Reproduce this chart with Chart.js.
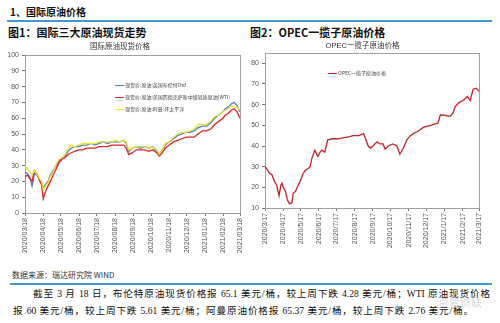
<!DOCTYPE html>
<html>
<head>
<meta charset="utf-8">
<script src="https://cdn.jsdelivr.net/npm/chart.js@4/dist/chart.umd.min.js"></script>
<style>
body{margin:0;width:500px;height:323px;background:#fff;position:relative;overflow:hidden;font-family:"Noto Sans CJK SC",sans-serif;}
.t{position:absolute;white-space:nowrap;color:#111;}
.bold{font-weight:bold;}
.bar{position:absolute;background:#3f9ad2;}
canvas{position:absolute;}
.lg{position:absolute;font-size:5px;color:#444;white-space:nowrap;line-height:6px;font-family:"Noto Sans CJK SC",sans-serif;}
.lg i{display:inline-block;width:9px;height:1.3px;vertical-align:middle;margin-right:1px;}
.p{position:absolute;font-size:9.6px;line-height:13px;color:#111;font-family:"Liberation Serif","Noto Sans CJK SC",serif;text-align:justify;text-align-last:justify;text-justify:inter-character;}
</style>
</head>
<body>
<div class="t bold" style="left:10px;top:4px;font-size:10px;line-height:15px;">1、国际原油价格</div>
<div class="bar" style="left:7px;top:20px;width:485px;height:2px;"></div>
<div class="t bold" style="left:8px;top:24px;font-size:11px;line-height:16px;">图1：国际三大原油现货走势</div>
<div class="t bold" style="left:250px;top:24px;font-size:11px;line-height:16px;">图2：OPEC一揽子原油价格</div>

<canvas id="left" width="260" height="222" style="left:0;top:38px;"></canvas>
<canvas id="right" width="244" height="222" style="left:246px;top:38px;"></canvas>

<div class="lg" style="left:115px;top:82px;"><i style="background:#4f7fbd"></i>现货价:原油:英国布伦特Dtd</div>
<div class="lg" style="left:115px;top:94px;"><i style="background:#dc2428"></i>现货价:原油:美国西德克萨斯中级轻质原油(WTI)</div>
<div class="lg" style="left:115px;top:106px;"><i style="background:#f0e03a"></i>现货价:原油:阿曼:环太平洋</div>
<div class="lg" style="left:328px;top:70px;"><i style="background:#c8202a"></i>OPEC一揽子原油价格</div>

<div class="t" style="left:12px;top:269px;font-size:8px;line-height:11px;color:#333;">数据来源：瑞达研究院 WIND</div>
<div class="bar" style="left:10px;top:283px;width:482px;height:1.5px;"></div>
<div class="p" style="left:33px;top:287px;width:457px;">截至 3 月 18 日，布伦特原油现货价格报 65.1 美元/桶，较上周下跌 4.28 美元/桶；WTI 原油现货价格</div>
<div class="p" style="left:13px;top:304px;width:460px;">报 60 美元/桶，较上周下跌 5.61 美元/桶；阿曼原油价格报 65.37 美元/桶，较上周下跌 2.76 美元/桶。</div>
<div class="t" style="left:438px;top:294px;font-size:11px;color:rgba(140,140,140,0.35);">资管财联</div>

<script>
// 图1 国际三大原油现货（天数自 2020/03/18 起）
var leftDays = [0,4,8,12,16,20,24,28,31,35,39,43,48,53,58,63,68,73,78,84,91,98,105,112,119,126,133,140,147,154,161,168,172,176,182,189,196,203,210,217,224,228,233,238,245,252,259,266,273,280,287,294,301,308,315,322,329,336,340,345,350,355,360,365];
var brent = [26,25,23,17,25,24,22,19,16,18,20,24,27,30,33,35,36,39,41,42,42,43,43,44,43,44,45,44,45,45,45,46,44,39,41,42,41,42,41,42,39,37,40,43,45,47,49,50,51,51,52,54,55,55,57,60,62,64,66,67,69,70,68,64];
var wti = [23,24,22,20,27,25,21,18,9,14,17,20,24,28,32,34,35,37,38,39,40,40,41,41,41,42,42,42,43,43,43,43,41,37,38,40,40,40,39,40,38,36,38,41,43,45,46,47,48,48,48,50,52,52,53,56,58,60,62,63,65,66,64,60];
var oman = [30,28,26,24,27,25,22,20,15,17,19,23,26,31,34,35,37,41,43,42,43,44,44,44,44,45,45,45,45,46,45,46,45,40,41,42,42,42,41,42,40,37,40,44,45,48,50,51,51,52,53,56,56,56,58,61,62,64,65,66,68,67,67,65];
var leftTickDays = [0,31,61,92,122,153,184,214,245,275,306,337,365];
var leftTickLabels = ['2020/03/18','2020/04/18','2020/05/18','2020/06/18','2020/07/18','2020/08/18','2020/09/18','2020/10/18','2020/11/18','2020/12/18','2021/01/18','2021/02/18','2021/03/18'];
var leftYTicks = [0,10,20,30,40,50,60,70,80,90,100];

// 图2 OPEC一揽子（天数自 2020/3/17 起）
var opecDays = [0,3,7,12,16,20,24,27,29,31,35,38,42,46,48,52,55,60,64,68,73,77,80,85,90,94,97,102,107,115,125,135,145,150,160,168,171,176,180,184,191,196,201,205,210,218,225,230,236,242,248,253,260,265,270,276,283,287,295,299,305,311,316,321,324,331,338,345,350,355,360,365];
var opec = [30,29,27,26,23,21,16,21,22,20,18,14,12,12.5,17,18,20,23,26,28,29,30,34,38,35,37,38,37,43,43.5,43.5,44,44.5,45,45,46,44,40,39,40,42,41,41,38.5,40,41,40,36,39,43,45,46,47,48,49,49.5,50,50.5,51,55,55,54.5,54.5,56,59,61,62,64,62,67.5,68,66.5];
var rightTickDays = [0,31,61,92,122,153,184,214,245,275,306,337,365];
var rightTickLabels = ['2020/3/17','2020/4/17','2020/5/17','2020/6/17','2020/7/17','2020/8/17','2020/9/17','2020/10/17','2020/11/17','2020/12/17','2021/1/17','2021/2/17','2021/3/17'];
var rightYTicks = [10,20,30,40,50,60,70,80];

var fontFam = '"Liberation Sans","Noto Sans CJK SC",sans-serif';

function pts(days, vals){
  return days.map(function(d,i){ return {x:d, y:vals[i]}; });
}

// 图框（上、右边线）
var boxPlugin = {
  id:'box',
  beforeDatasetsDraw: function(chart){
    var a = chart.chartArea, c = chart.ctx;
    c.save();
    c.strokeStyle = '#a0a0a0';
    c.lineWidth = 1;
    c.strokeRect(Math.round(a.left)+0.5, Math.round(a.top)+0.5, Math.round(a.width), Math.round(a.height));
    c.restore();
  }
};

function makeScales(tickDays, tickLabels, yTicks, ymin, ymax, yW, xH){
  return {
    x:{
      type:'linear', min:0, max:365,
      afterBuildTicks:function(s){ s.ticks = tickDays.map(function(v){return {value:v};}); },
      afterFit:function(s){ s.height = xH; },
      grid:{display:true, drawOnChartArea:false, drawTicks:true, tickLength:3, color:'#777'},
      border:{display:true, color:'#666'},
      ticks:{autoSkip:false, minRotation:90, maxRotation:90, padding:2, color:'#555',
        font:{size:7, family:fontFam},
        callback:function(v,i){ return tickLabels[i]; }}
    },
    y:{
      min:ymin, max:ymax,
      afterBuildTicks:function(s){ s.ticks = yTicks.map(function(v){return {value:v};}); },
      afterFit:function(s){ s.width = yW; },
      grid:{display:true, drawOnChartArea:false, drawTicks:true, tickLength:3, color:'#777'},
      border:{display:true, color:'#666'},
      ticks:{padding:3, color:'#555', font:{size:7, family:fontFam}}
    }
  };
}

new Chart(document.getElementById('left').getContext('2d'), {
  type:'line',
  data:{
    datasets:[
      {label:'现货价:原油:阿曼:环太平洋', data:pts(leftDays, oman), borderColor:'#f0e03a', borderWidth:1.3, pointRadius:0, tension:0, order:1},
      {label:'现货价:原油:美国西德克萨斯中级轻质原油(WTI)', data:pts(leftDays, wti), borderColor:'#dc2428', borderWidth:1.3, pointRadius:0, tension:0, order:2},
      {label:'现货价:原油:英国布伦特Dtd', data:pts(leftDays, brent), borderColor:'#4f7fbd', borderWidth:1.3, pointRadius:0, tension:0, order:3}
    ]
  },
  options:{
    responsive:false, animation:false, devicePixelRatio:1,
    layout:{padding:{left:0, right:20, top:0, bottom:0}},
    plugins:{
      legend:{display:false}, tooltip:{enabled:false},
      title:{display:true, text:'国际原油现货价格', color:'#333', font:{size:7.5, weight:'normal', family:fontFam}, padding:{top:4, bottom:4}}
    },
    scales:makeScales(leftTickDays, leftTickLabels, leftYTicks, 0, 100, 25, 47)
  },
  plugins:[boxPlugin]
});

new Chart(document.getElementById('right').getContext('2d'), {
  type:'line',
  data:{
    datasets:[
      {label:'OPEC一揽子原油价格', data:pts(opecDays, opec), borderColor:'#c8202a', borderWidth:1.3, pointRadius:0, tension:0}
    ]
  },
  options:{
    responsive:false, animation:false, devicePixelRatio:1,
    layout:{padding:{left:0, right:11, top:0, bottom:0}},
    plugins:{
      legend:{display:false}, tooltip:{enabled:false},
      title:{display:true, text:'OPEC一揽子原油价格', color:'#333', font:{size:7.5, weight:'normal', family:fontFam}, padding:{top:3, bottom:3}}
    },
    scales:makeScales(rightTickDays, rightTickLabels, rightYTicks, 10, 85, 19, 52)
  },
  plugins:[boxPlugin]
});
</script>
</body>
</html>
